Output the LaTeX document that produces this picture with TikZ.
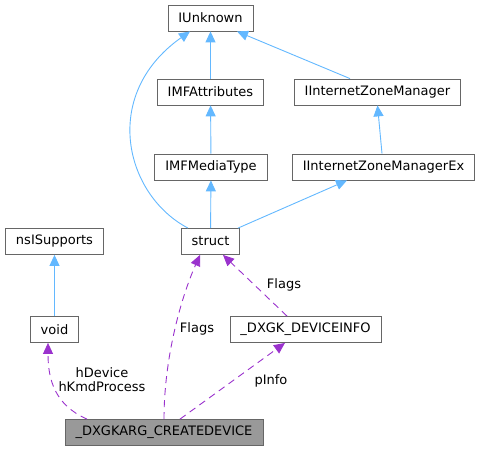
\documentclass[tikz,border=0pt]{standalone}
\usepackage{fontspec}
\setmainfont{DejaVu Sans}
\usepackage{tikz}
\usetikzlibrary{arrows.meta}
\definecolor{inhblue}{HTML}{63B8FF}
\definecolor{usepurple}{HTML}{9A32CD}
\definecolor{boxgray}{HTML}{666666}
\definecolor{mainfill}{HTML}{999999}

\begin{document}
\begin{tikzpicture}[x=1bp, y=-1bp,
    cls/.style={draw=boxgray, fill=white, line width=0.8bp, minimum height=26bp,
        inner xsep=10.5bp, inner ysep=0bp, font=\fontsize{13bp}{14bp}\selectfont},
    inh/.style={-{Triangle[length=11bp,width=10bp]}, color=inhblue, line width=0.9bp},
    use/.style={-{Triangle[length=11bp,width=10bp]}, color=usepurple, line width=0.9bp,
        dash pattern=on 7bp off 5bp},
    lbl/.style={font=\fontsize{13bp}{14bp}\selectfont, align=center, inner sep=0bp}]
            \useasboundingbox (0,0) rectangle (481,451);

            % adding classes
            \node[cls] (IUnknown) at (210.5,18) {IUnknown};
            \node[cls] (IMFAttributes) at (210.5,92) {IMFAttributes};
            \node[cls] (IInternetZoneManager) at (377.5,92) {IInternetZoneManager};
            \node[cls] (IMFMediaType) at (211,167) {IMFMediaType};
            \node[cls] (IInternetZoneManagerEx) at (383.5,167) {IInternetZoneManagerEx};
            \node[cls] (struct) at (210.5,241.5) {struct};
            \node[cls] (nsISupports) at (54.5,241.5) {nsISupports};
            \node[cls] (void) at (54.5,329.5) {void};
            \node[cls] (DeviceInfo) at (305.5,329.5) {\_DXGK\_DEVICEINFO};
            \node[cls, fill=mainfill] (CreateDevice) at (164,432.5) {\_DXGKARG\_CREATEDEVICE};

            % Adding inheritance arrows
            \draw[inh] (IMFAttributes) -- (IUnknown);
            \draw[inh] ([xshift=-27.5bp]IInternetZoneManager.north) -- ([xshift=26.5bp]IUnknown.south);
            \draw[inh] ([xshift=-1.5bp]IInternetZoneManagerEx.north) -- (IInternetZoneManager.south);
            \draw[inh] (IMFMediaType) -- (IMFAttributes);
            \draw[inh] (struct) -- (IMFMediaType);
            \draw[inh] ([xshift=-22.5bp]struct.north) .. controls (125,195) and (100,95) .. ([xshift=-20.5bp]IUnknown.south);
            \draw[inh] ([xshift=27.5bp]struct.north) -- ([xshift=-36.5bp]IInternetZoneManagerEx.south);
            \draw[inh] (void) -- (nsISupports);

            % Adding member arrows
            \draw[use] ([xshift=-77bp]CreateDevice.north) .. controls (55,405) and (48,380) .. ([xshift=-6.5bp]void.south);
            \draw[use] (CreateDevice.north) .. controls (164,360) and (180,300) .. ([xshift=-10.5bp]struct.south);
            \draw[use] ([xshift=-18.5bp]DeviceInfo.north) -- ([xshift=12.5bp]struct.south);
            \draw[use] ([xshift=16bp]CreateDevice.north) -- ([xshift=-20.5bp]DeviceInfo.south);

            % member labels
            \node[lbl] (lblVoid) at (102,380) {hDevice\\hKmdProcess};
            \node[lbl] (lblFlagsA) at (197,329) {Flags};
            \node[lbl] (lblFlagsB) at (284,285) {Flags};
            \node[lbl] (lblInfo) at (271,381) {pInfo};

        \end{tikzpicture}
\end{document}
